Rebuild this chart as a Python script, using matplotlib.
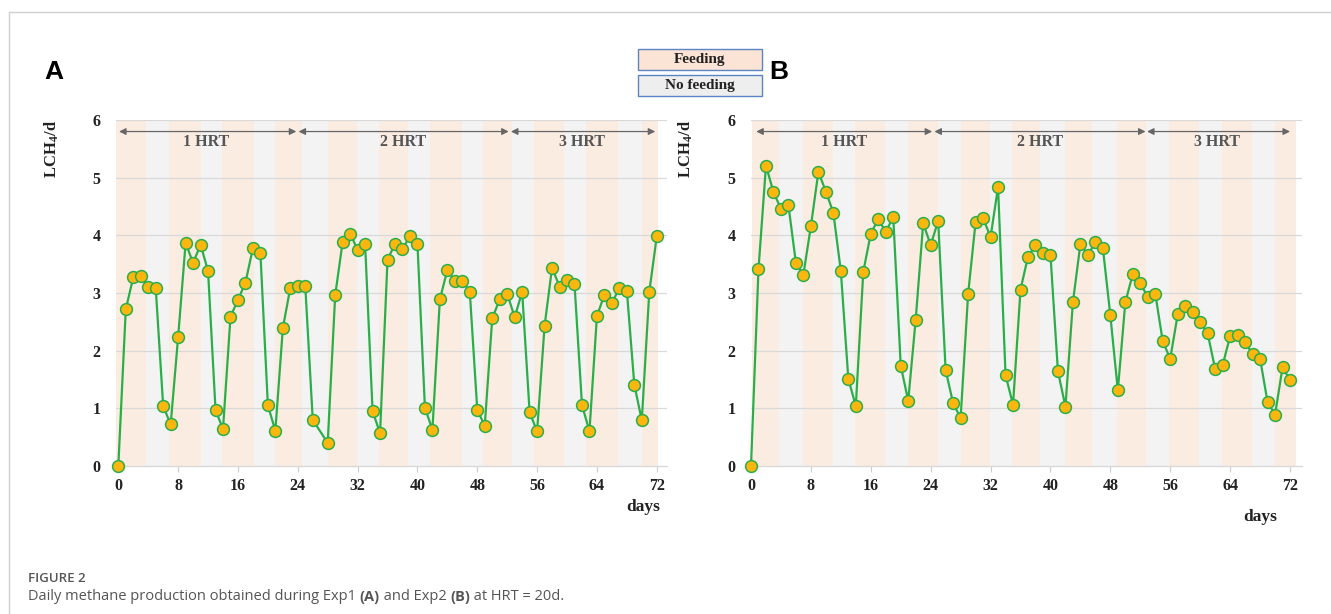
import matplotlib
matplotlib.use("Agg")
import matplotlib.pyplot as plt
from matplotlib.patches import Rectangle
from matplotlib.lines import Line2D

plt.rcParams['mathtext.fontset'] = 'custom'
plt.rcParams['mathtext.rm'] = 'Liberation Serif'
plt.rcParams['mathtext.bf'] = 'Liberation Serif:bold'

# ---------------- data ----------------
days_a = [0, 1, 2, 3, 4, 5, 6, 7, 8, 9, 10, 11, 12, 13, 14, 15, 16, 17, 18, 19, 20,
          21, 22, 23, 24, 25, 26, 28, 29, 30, 31, 32, 33, 34, 35, 36, 37, 38, 39, 40,
          41, 42, 43, 44, 45, 46, 47, 48, 49, 50, 51, 52, 53, 54, 55, 56, 57, 58, 59,
          60, 61, 62, 63, 64, 65, 66, 67, 68, 69, 70, 71, 72]
ch4_a = [0.00, 2.72, 3.27, 3.30, 3.10, 3.09, 1.04, 0.72, 2.24, 3.87, 3.52, 3.84, 3.38,
         0.97, 0.64, 2.59, 2.88, 3.18, 3.78, 3.69, 1.05, 0.61, 2.39, 3.09, 3.13, 3.12,
         0.80, 0.40, 2.96, 3.89, 4.03, 3.75, 3.85, 0.95, 0.57, 3.58, 3.85, 3.76, 3.99,
         3.85, 1.01, 0.63, 2.89, 3.40, 3.21, 3.21, 3.02, 0.97, 0.70, 2.56, 2.89, 2.99,
         2.58, 3.02, 0.93, 0.60, 2.43, 3.44, 3.11, 3.22, 3.16, 1.06, 0.60, 2.60, 2.97,
         2.83, 3.08, 3.04, 1.41, 0.79, 3.02, 3.98]

days_b = list(range(0, 73))
ch4_b = [0.00, 3.41, 5.21, 4.75, 4.46, 4.52, 3.52, 3.32, 4.16, 5.10, 4.76, 4.39, 3.38,
         1.51, 1.04, 3.37, 4.03, 4.28, 4.06, 4.32, 1.74, 1.13, 2.54, 4.21, 3.83, 4.25,
         1.66, 1.09, 0.83, 2.98, 4.23, 4.30, 3.97, 4.84, 1.58, 1.06, 3.06, 3.63, 3.83,
         3.69, 3.66, 1.64, 1.03, 2.84, 3.85, 3.66, 3.88, 3.78, 2.61, 1.31, 2.84, 3.33,
         3.17, 2.93, 2.99, 2.16, 1.86, 2.63, 2.77, 2.67, 2.50, 2.30, 1.68, 1.75, 2.25,
         2.27, 2.15, 1.94, 1.86, 1.11, 0.89, 1.71, 1.49]

# feeding periods (start day, end day)
feed_a = [(-0.3, 3.7), (6.8, 11.0), (13.8, 18.1), (20.9, 24.5), (28.1, 31.9),
          (34.9, 38.8), (41.7, 45.9), (48.8, 52.7), (55.6, 59.6), (62.6, 66.8),
          (70.0, 72.2)]
feed_b = [(0.13, 3.8), (6.9, 11.0), (13.9, 17.9), (21.0, 25.0), (28.0, 31.9),
          (34.9, 38.6), (42.0, 45.6), (48.9, 52.8), (55.8, 59.9), (62.9, 66.9),
          (70.0, 72.8)]

# HRT periods: (start, end, label, label position)
hrt_a = [(0.1, 23.8, "1 HRT", 11.8), (24.1, 52.2, "2 HRT", 38.1), (52.5, 71.8, "3 HRT", 62.0)]
hrt_b = [(0.7, 24.2, "1 HRT", 12.4), (24.5, 52.7, "2 HRT", 38.6), (52.9, 72.0, "3 HRT", 62.3)]

x_ticks = [0, 8, 16, 24, 32, 40, 48, 56, 64, 72]
y_ticks = [0, 1, 2, 3, 4, 5, 6]

# ---------------- style ----------------
FEED = '#FBECE2'
NOFEED = '#F3F3F3'
GRID = '#D9D9D9'
LINE = '#2BAE4A'
FACE = '#FDB60D'
TXT = '#222222'
ARROW = '#666666'

W, H = 1331, 614
fig = plt.figure(figsize=(W / 100, H / 100), dpi=100)


def fx(px):
    return px / W


def fy(py):
    return 1 - py / H


def panel(rect, xlim, days, vals, feeds, hrts):
    ax = fig.add_axes(rect)
    ax.set_xlim(*xlim)
    ax.set_ylim(0, 6)
    ax.set_facecolor('white')
    # background bands
    for i, (s, e) in enumerate(feeds):
        ax.axvspan(s, e, color=FEED, lw=0, zorder=0)
        if i + 1 < len(feeds):
            ax.axvspan(e, feeds[i + 1][0], color=NOFEED, lw=0, zorder=0)
    for y in y_ticks[1:]:
        ax.axhline(y, color=GRID, lw=0.9, zorder=0.5)
    for sp in ['top', 'right', 'left']:
        ax.spines[sp].set_visible(False)
    ax.spines['bottom'].set_color(GRID)
    ax.spines['bottom'].set_linewidth(1.0)
    ax.set_xticks(x_ticks)
    ax.set_yticks(y_ticks)
    ax.tick_params(axis='x', length=4, color='#CCCCCC', pad=5)
    ax.tick_params(axis='y', length=0, pad=11)
    for lab in ax.get_xticklabels() + ax.get_yticklabels():
        lab.set_fontfamily('Liberation Serif')
        lab.set_fontweight('bold')
        lab.set_fontsize(11.5)
        lab.set_color(TXT)
    ax.plot(days, vals, color=LINE, lw=1.6, marker='o', ms=8.5,
            mfc=FACE, mec=LINE, mew=1.1, zorder=3, clip_on=False)
    for s, e, lab, xp in hrts:
        ax.annotate('', xy=(e, 5.8), xytext=(s, 5.8),
                    arrowprops=dict(arrowstyle='<|-|>', color=ARROW, lw=0.9,
                                    mutation_scale=10, shrinkA=0, shrinkB=0),
                    zorder=4)
        ax.text(xp, 5.61, lab, ha='center', va='center', fontsize=11.5,
                fontfamily='Liberation Serif', fontweight='bold', color='#555555', zorder=4)
    return ax


ax_a = panel([fx(116), fy(466), fx(667 - 116), fy(120) - fy(466)],
             (-0.31, 73.37), days_a, ch4_a, feed_a, hrt_a)
ax_b = panel([fx(751), fy(466), fx(1301.7 - 751), fy(120) - fy(466)],
             (0.13, 73.56), days_b, ch4_b, feed_b, hrt_b)

# axis labels
ylab = r'$\mathbf{LCH_4/d}$'
fig.text(fx(52), fy(149), ylab, rotation=90, ha='center', va='center', fontsize=12, color=TXT)
fig.text(fx(686), fy(149), ylab, rotation=90, ha='center', va='center', fontsize=12, color=TXT)
fig.text(fx(643), fy(507), 'days', ha='center', va='center', fontsize=12.5,
         fontfamily='Liberation Serif', fontweight='bold', color=TXT)
fig.text(fx(1260), fy(517), 'days', ha='center', va='center', fontsize=12.5,
         fontfamily='Liberation Serif', fontweight='bold', color=TXT)

# panel letters
fig.text(fx(54), fy(72), 'A', ha='center', va='center', fontsize=19,
         fontfamily='Liberation Sans', fontweight='bold', color='black')
fig.text(fx(779), fy(72), 'B', ha='center', va='center', fontsize=19,
         fontfamily='Liberation Sans', fontweight='bold', color='black')

# legend boxes
for (y0, y1, fc, lab) in [(49, 70, '#FBE3D6', 'Feeding'), (75, 96, '#EEEEEE', 'No feeding')]:
    fig.patches.append(Rectangle((fx(638), fy(y1)), fx(762 - 638), fy(y0) - fy(y1),
                                 transform=fig.transFigure, facecolor=fc,
                                 edgecolor='#5B84C4', lw=1.0))
    fig.text(fx(700), fy((y0 + y1) / 2), lab, ha='center', va='center', fontsize=11,
             fontfamily='Liberation Serif', fontweight='bold', color=TXT)

# frame lines
fig.add_artist(Line2D([fx(9), 1], [fy(12), fy(12)], transform=fig.transFigure,
                      color='#CFCFCF', lw=1))
fig.add_artist(Line2D([fx(9), fx(9)], [fy(12), 0], transform=fig.transFigure,
                      color='#CFCFCF', lw=1))

# caption
fig.text(fx(28), fy(579), 'FIGURE 2', ha='left', va='center', fontsize=9.5,
         fontfamily='Open Sans', fontweight='semibold', color='#555555')
parts = [("Daily methane production obtained during Exp1 ", 'normal'), ("(A)", 'bold'),
         (" and Exp2 ", 'normal'), ("(B)", 'bold'), (" at HRT = 20d.", 'normal')]
renderer = fig.canvas.get_renderer()
xcur = 28
for txt, wt in parts:
    t = fig.text(fx(xcur), fy(597), txt, ha='left', va='center', fontsize=10.5,
                 fontfamily='Open Sans', fontweight=wt, color='#555555')
    bb = t.get_window_extent(renderer=renderer)
    xcur += bb.width

fig.savefig('out.png', dpi=100)
